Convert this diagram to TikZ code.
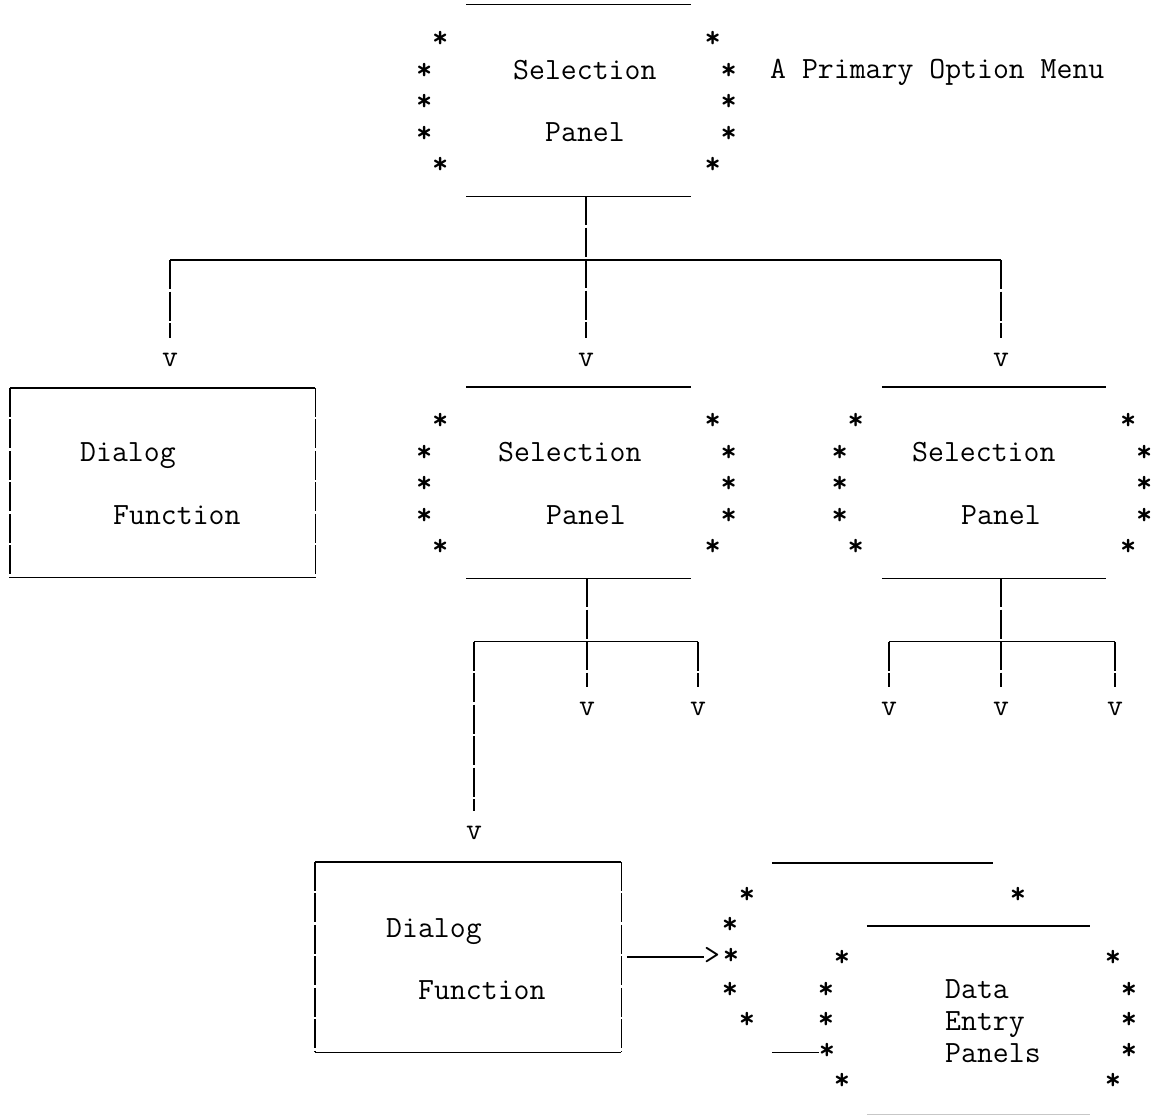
\documentclass[tikz,border=0pt]{standalone}
\usepackage{fontspec}
\begin{document}
\begin{tikzpicture}[x=1pt,y=-1pt,
  txt/.style={font=\fontsize{30.9}{36}\selectfont\ttfamily, inner sep=0pt, anchor=base west},
  ast/.style={font=\fontsize{30.9}{36}\selectfont\ttfamily\bfseries, inner sep=0pt, anchor=base, yshift=-11pt},
  tip/.style={font=\fontsize{30.9}{36}\selectfont\ttfamily, inner sep=0pt, anchor=base},
  frame/.style={draw=none, inner sep=0pt},
  rule/.style={line width=1.4pt, line cap=butt},
  vrule/.style={rule, dash pattern=on 29pt off 2.5pt},
]
\useasboundingbox (0,0) rectangle (1158,1116);

% star borders of a selection panel: rows below the top rule, inner/outer offsets
\newcommand\selstars[1]{%
  \foreach \r/\dy/\dl/\dr in {1/32/26/22, 2/64/42/38, 3/95/42/38, 4/127/42/38, 5/158/26/22} {
    \node[ast] (#1-l\r) at ([shift={(-\dl,\dy)}]#1.north west) {*};
    \node[ast] (#1-r\r) at ([shift={(\dr,\dy)}]#1.north east) {*};
  }%
  \draw[rule] (#1.north west) -- (#1.north east);
  \draw[rule] (#1.south west) -- (#1.south east);
}
\newcommand\dfbox[1]{%
  \draw[rule] (#1.north west) -- (#1.north east);
  \draw[rule] (#1.south west) -- (#1.south east);
  \draw[vrule] (#1.north west) -- (#1.south west);
  \draw[vrule] (#1.north east) -- (#1.south east);
}

% ---- primary option menu ----
\node[frame, minimum width=224pt, minimum height=191pt] (sp1) at (578.5,100.5) {};
\selstars{sp1}
\node[txt] (sp1-a) at (513,79) {Selection};
\node[txt] (sp1-b) at (545,141) {Panel};
\node[txt] (menu) at (770,78) {A Primary Option Menu};

% ---- second level ----
\node[frame, minimum width=305pt, minimum height=189pt] (df1) at (162.5,482.5) {};
\dfbox{df1}
\node[txt] (df1-a) at (80,461) {Dialog};
\node[txt] (df1-b) at (113,524) {Function};

\node[frame, minimum width=224pt, minimum height=191pt] (sp2) at (578.5,482.5) {};
\selstars{sp2}
\node[txt] (sp2-a) at (498,461) {Selection};
\node[txt] (sp2-b) at (546,524) {Panel};

\node[frame, minimum width=224pt, minimum height=191pt] (sp3) at (994,482.5) {};
\selstars{sp3}
\node[txt] (sp3-a) at (912,461) {Selection};
\node[txt] (sp3-b) at (961,524) {Panel};

% ---- connectors from the primary menu ----
\node[tip] (v1) at (170,366) {v};
\node[tip] (v2) at (586,366) {v};
\node[tip] (v3) at (1001,366) {v};
\coordinate (bar1) at (586,260);
\draw[vrule] (sp1.south -| v2) -- ([yshift=14pt]v2.north);
\draw[rule] (v1 |- bar1) -- (v3 |- bar1);
\draw[vrule] (v1 |- bar1) -- ([yshift=14pt]v1.north);
\draw[vrule] (v3 |- bar1) -- ([yshift=14pt]v3.north);

% ---- connectors from the middle panel ----
\node[tip] (v4) at (474,839) {v};
\node[tip] (v5) at (587,715) {v};
\node[tip] (v6) at (698,715) {v};
\coordinate (bar2) at (586,641.5);
\draw[vrule] (sp2.south -| v5) -- ([yshift=14pt]v5.north);
\draw[rule] (v4 |- bar2) -- (v6 |- bar2);
\draw[vrule] (v4 |- bar2) -- ([yshift=14pt]v4.north);
\draw[vrule] (v6 |- bar2) -- ([yshift=14pt]v6.north);

% ---- connectors from the right panel ----
\node[tip] (v7) at (889,715) {v};
\node[tip] (v8) at (1001,715) {v};
\node[tip] (v9) at (1115,715) {v};
\coordinate (bar3) at (1001,641.5);
\draw[vrule] (sp3.south -| v8) -- ([yshift=14pt]v8.north);
\draw[rule] (v7 |- bar3) -- (v9 |- bar3);
\draw[vrule] (v7 |- bar3) -- ([yshift=14pt]v7.north);
\draw[vrule] (v9 |- bar3) -- ([yshift=14pt]v9.north);

% ---- dialog function leading to data entry panels ----
\node[frame, minimum width=306pt, minimum height=190pt] (df2) at (468,957) {};
\dfbox{df2}
\node[txt] (df2-a) at (386,937) {Dialog};
\node[txt] (df2-b) at (418,999) {Function};

% back panel of the stack
\node[frame, minimum width=221pt, minimum height=189pt] (dep1) at (882.5,957.5) {};
\draw[rule] (dep1.north west) -- (dep1.north east);
\foreach \r/\x/\y in {1/747/892, 2/730/922, 3/731/953, 4/730/987, 5/747/1017}
  \node[ast] (dep1-l\r) at (\x,\y) {*};
\node[ast] (dep1-r1) at (1018,892) {*};

% front panel of the stack
\node[frame, minimum width=223pt, minimum height=188pt] (dep2) at (978.5,1020) {};
\draw[rule] (dep2.north west) -- (dep2.north east);
\draw[rule, black!22] (dep2.south west) -- (dep2.south east);
\foreach \r/\x/\y in {1/842/955, 2/826/987, 3/826/1017, 4/827/1048, 5/842/1078}
  \node[ast] (dep2-l\r) at (\x,\y) {*};
\foreach \r/\x/\y in {1/1113/955, 2/1129/987, 3/1129/1017, 4/1129/1048, 5/1113/1078}
  \node[ast] (dep2-r\r) at (\x,\y) {*};
\draw[rule] (dep1.south west) -- (dep1.south west -| dep2-l4.west);
\node[txt] (dep-a) at (945,998) {Data};
\node[txt] (dep-b) at (945,1030) {Entry};
\node[txt] (dep-c) at (945,1062) {Panels};

% arrow into the stack
\node[txt] (gt) at (704,964) {>};
\draw[rule] ([xshift=6pt]df2.east) -- (gt.west |- df2.east);
\end{tikzpicture}
\end{document}
